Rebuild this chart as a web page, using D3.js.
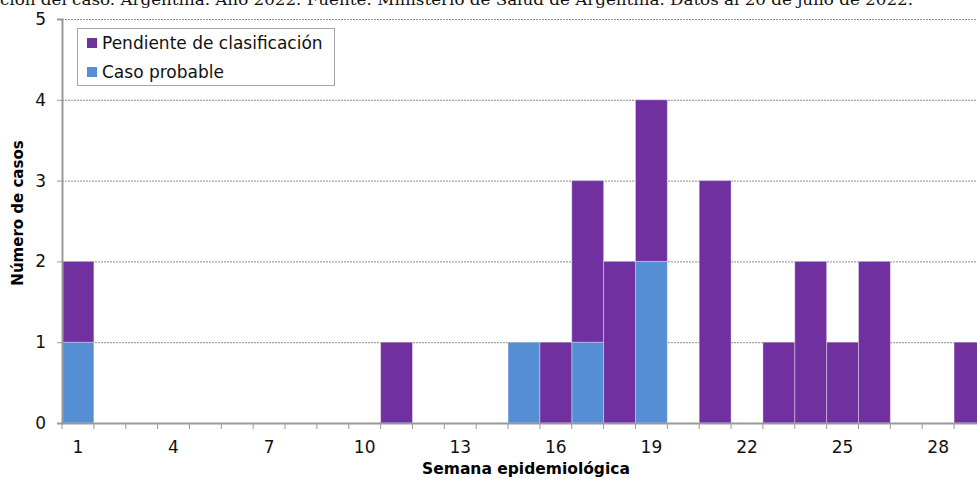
<!DOCTYPE html>
<html>
<head>
<meta charset="utf-8">
<script src="https://cdn.jsdelivr.net/npm/d3@7"></script>
<style>
  html, body { margin: 0; padding: 0; background: #fff; overflow: hidden; }
  svg { display: block; }
</style>
</head>
<body>
<svg id="chart" width="977" height="480"></svg>
<script>
// Weekly cases by classification status
const weeks = d3.range(1, 30);
const casoProbable = [1,0,0,0,0,0,0,0,0,0,0,0,0,0,1,0,1,0,2,0,0,0,0,0,0,0,0,0,0];
const pendiente    = [1,0,0,0,0,0,0,0,0,0,1,0,0,0,0,1,2,2,2,0,3,0,1,2,1,2,0,0,1];
const xTickLabels = [1, 4, 7, 10, 13, 16, 19, 22, 25, 28];
const yTicks = [0, 1, 2, 3, 4, 5];
const seriesNames = ["Pendiente de clasificación", "Caso probable"];
const colors = { pendiente: "#7030A0", probable: "#558ED5" };
const caption = "ción del caso. Argentina. Año 2022. Fuente: Ministerio de Salud de Argentina. Datos al 20 de julio de 2022.";

const svg = d3.select("#chart");
const plotLeft = 62, plotBottom = 423, plotTop = 19, bandW = 31.86;
const sans = "DejaVu Sans, Verdana, sans-serif";
const x = d3.scaleBand().domain(weeks).range([plotLeft, plotLeft + weeks.length * bandW]).padding(0);
const y = d3.scaleLinear().domain([0, 5]).range([plotBottom, plotTop]);

const rows = weeks.map((w, i) => ({ week: w, probable: casoProbable[i], pendiente: pendiente[i] }));
const stacked = d3.stack().keys(["probable", "pendiente"])(rows);

// caption line (continues from the text above the chart)
svg.append("text")
  .attr("x", 0).attr("y", 5)
  .attr("font-family", "DejaVu Serif, serif")
  .attr("font-size", 15.5)
  .attr("fill", "#111")
  .attr("textLength", 913)
  .attr("lengthAdjust", "spacingAndGlyphs")
  .text(caption);

// horizontal gridlines
svg.append("g").selectAll("line")
  .data(yTicks.filter(d => d > 0))
  .join("line")
  .attr("x1", plotLeft).attr("x2", 977)
  .attr("y1", d => y(d) + 0.5).attr("y2", d => y(d) + 0.5)
  .attr("stroke", "#8c8c8c")
  .attr("stroke-width", 1)
  .attr("stroke-dasharray", "2,1");

// stacked bars
svg.append("g").selectAll("g")
  .data(stacked)
  .join("g")
  .attr("fill", d => colors[d.key])
  .selectAll("rect")
  .data(d => d.filter(s => s[1] - s[0] > 0))
  .join("rect")
  .attr("x", d => x(d.data.week))
  .attr("width", x.bandwidth())
  .attr("y", d => y(d[1]))
  .attr("height", d => y(d[0]) - y(d[1]))
  .attr("stroke", "rgba(255,255,255,0.35)")
  .attr("stroke-width", 1);

// y axis
const yAxis = svg.append("g").attr("transform", `translate(${plotLeft},0)`)
  .call(d3.axisLeft(y).tickValues(yTicks).tickSize(5).tickPadding(11).tickFormat(d3.format("d")));
yAxis.select(".domain").attr("stroke", "#999").attr("stroke-width", 2);
yAxis.selectAll(".tick line").attr("stroke", "#999");
yAxis.selectAll(".tick text")
  .attr("font-family", sans)
  .attr("font-size", 17).attr("fill", "#111");

// x axis: tick marks at band edges
const edges = weeks.map(w => x(w)).concat([x(weeks[weeks.length - 1]) + x.bandwidth()]);
svg.append("line")
  .attr("x1", plotLeft).attr("x2", 977)
  .attr("y1", plotBottom + 0.5).attr("y2", plotBottom + 0.5)
  .attr("stroke", "#999").attr("stroke-width", 2);
svg.append("g").selectAll("line")
  .data(edges)
  .join("line")
  .attr("x1", d => d).attr("x2", d => d)
  .attr("y1", plotBottom).attr("y2", plotBottom + 6)
  .attr("stroke", "#999").attr("stroke-width", 1);
svg.append("g").selectAll("text")
  .data(xTickLabels)
  .join("text")
  .attr("x", d => x(d) + x.bandwidth() / 2)
  .attr("y", 453)
  .attr("text-anchor", "middle")
  .attr("font-family", sans)
  .attr("font-size", 17).attr("fill", "#111")
  .text(d => d);

// axis titles
svg.append("text")
  .attr("x", 526).attr("y", 474)
  .attr("text-anchor", "middle")
  .attr("font-family", sans)
  .attr("font-weight", "bold").attr("font-size", 15.5).attr("fill", "#000")
  .text("Semana epidemiológica");
svg.append("text")
  .attr("transform", "translate(23,213) rotate(-90)")
  .attr("text-anchor", "middle")
  .attr("font-family", sans)
  .attr("font-weight", "bold").attr("font-size", 15).attr("fill", "#000")
  .text("Número de casos");

// legend
const legend = svg.append("g");
legend.append("rect")
  .attr("x", 77.5).attr("y", 28.5).attr("width", 257).attr("height", 57)
  .attr("fill", "#fff").attr("stroke", "#a6a6a6").attr("stroke-width", 1);
const legendItems = [
  { name: seriesNames[0], color: colors.pendiente },
  { name: seriesNames[1], color: colors.probable }
];
const li = legend.selectAll("g.item").data(legendItems).join("g")
  .attr("class", "item")
  .attr("transform", (d, i) => `translate(87,${38 + i * 29})`);
li.append("rect").attr("width", 10).attr("height", 10).attr("fill", d => d.color);
li.append("text")
  .attr("x", 15).attr("y", 11)
  .attr("font-family", sans)
  .attr("font-size", 17).attr("fill", "#111")
  .text(d => d.name);
</script>
</body>
</html>
